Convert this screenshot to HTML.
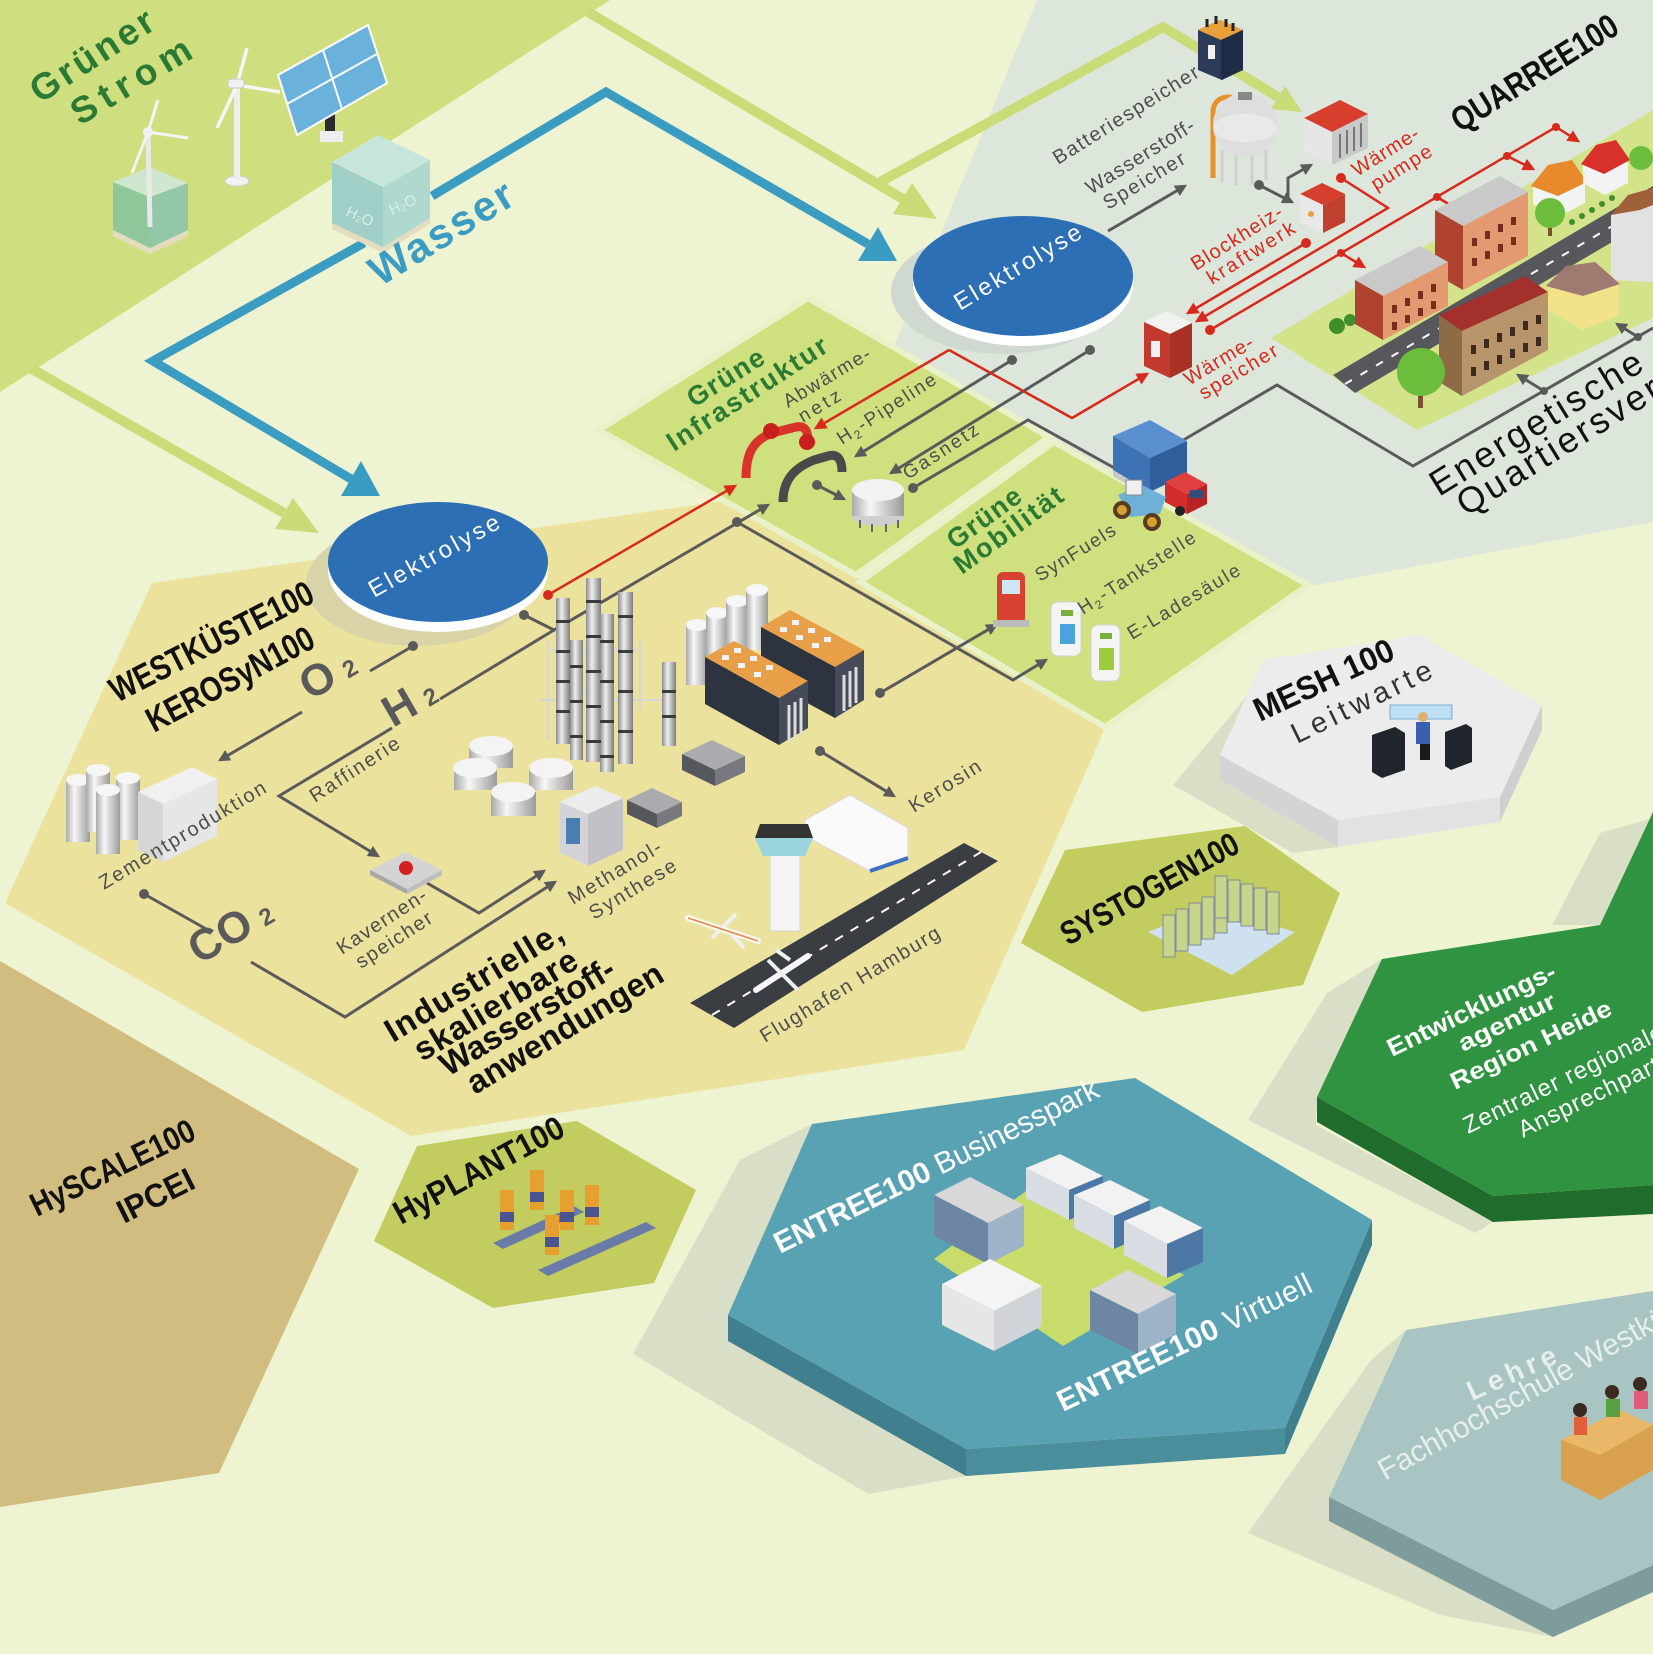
<!DOCTYPE html>
<html><head><meta charset="utf-8">
<style>
html,body{margin:0;padding:0;background:#eef4d1;}
svg{display:block;}
text{font-family:"Liberation Sans",Arial,sans-serif;}
.lb{font-size:20px;fill:#4d4d4d;}
.rl{font-size:20px;fill:#d9291c;}
.gt{font-size:27px;font-weight:bold;fill:#2b7a34;}
.tt{font-weight:bold;fill:#111;}
.g{stroke:#5a5a5a;stroke-width:3;fill:none;}
.r{stroke:#d9291c;stroke-width:2.5;fill:none;}
</style></head><body>
<svg width="1653" height="1654" viewBox="0 0 1653 1654" xmlns="http://www.w3.org/2000/svg">
<defs>
<marker id="mg" viewBox="0 0 10 10" refX="8" refY="5" markerWidth="4" markerHeight="4" orient="auto"><path d="M0,0 L10,5 L0,10 z" fill="#5a5a5a"/></marker>
<marker id="mr" viewBox="0 0 10 10" refX="8" refY="5" markerWidth="5" markerHeight="5" orient="auto"><path d="M0,0 L10,5 L0,10 z" fill="#d9291c"/></marker>
<linearGradient id="cyl" x1="0" x2="1" y1="0" y2="0"><stop offset="0" stop-color="#a9a9a9"/><stop offset="0.35" stop-color="#f7f7f7"/><stop offset="1" stop-color="#9a9a9a"/></linearGradient>
<linearGradient id="col" x1="0" x2="1" y1="0" y2="0"><stop offset="0" stop-color="#8c8c8c"/><stop offset="0.4" stop-color="#eeeeee"/><stop offset="1" stop-color="#7d7d7d"/></linearGradient>
</defs>

<rect width="1653" height="1654" fill="#eef4d1"/>
<polygon points="0,0 610,0 0,392" fill="#cfdf7f"/>
<polygon points="1037,0 1653,0 1653,522 1300,588 1060,445 895,345" fill="#dde6da"/>

<polygon points="5,903 152,583 730,500 1105,728 964,1050 411,1136" fill="#ebe39d"/>
<polygon points="0,961 359,1169 219,1473 0,1507" fill="#d1bd80"/>
<polygon points="417,1146 577,1121 696,1190 654,1283 493,1308 374,1241" fill="#c3cc5f"/>
<polygon points="1065,850 1245,826 1340,893 1303,985 1142,1012 1021,943" fill="#c3cc5f"/>

<polygon points="1255,686 1173,785 1293,853 1338,847 1220,780 1220,755" fill="#d9dfc6"/>
<polygon points="740,1160 633,1354 868,1494 1000,1470 812,1124" fill="#d9dfc6"/>
<polygon points="1327,993 1248,1120 1475,1233 1493,1222 1316,1125 1316,1114 1382,959" fill="#d9dfc6"/>
<polygon points="1552,925 1600,833 1653,818 1653,812 1600,925" fill="#d9dfc6"/>
<polygon points="1371,1360 1248,1533 1440,1615 1553,1637 1329,1520 1329,1497 1406,1330" fill="#d9dfc6"/>

<polygon points="1220,755 1338,820 1338,847 1220,780" fill="#d4d4d4"/>
<polygon points="1338,820 1500,797 1500,822 1338,847" fill="#e2e2e2"/>
<polygon points="1500,797 1542,705 1542,730 1500,822" fill="#cfcfcf"/>
<polygon points="1263,660 1420,635 1542,705 1500,797 1338,820 1220,755" fill="#ececec"/>

<polygon points="728,1315 966,1449 966,1476 728,1341" fill="#3f7f8e"/>
<polygon points="966,1449 1285,1428 1285,1454 966,1476" fill="#4a8d9b"/>
<polygon points="1285,1428 1372,1220 1372,1245 1285,1454" fill="#3f7f8e"/>
<polygon points="728,1315 812,1124 1135,1078 1372,1220 1285,1428 966,1449" fill="#58a2b3"/>

<polygon points="1317,1097 1493,1196 1653,1185 1653,1214 1493,1222 1317,1122" fill="#1f6c2c"/>
<polygon points="1382,959 1600,925 1653,812 1653,1185 1493,1196 1317,1097" fill="#2f9342"/>

<polygon points="1329,1497 1553,1610 1653,1565 1653,1592 1553,1637 1329,1521" fill="#7f9c9c"/>
<polygon points="1329,1497 1406,1330 1653,1291 1653,1565 1553,1610" fill="#a8c4c3"/>

<polygon points="599,430 808,298 1049,437 856,575" fill="#cfe07e" stroke="#e9f1c8" stroke-width="6"/>
<polygon points="1054,442 1308,585 1105,727 860,582" fill="#cfe07e" stroke="#e9f1c8" stroke-width="6"/>
<polygon points="1271,338 1653,110 1653,318 1417,430" fill="#d3e38a"/>

<g stroke="#c9dc78" stroke-width="10" fill="none">
<path d="M32,369 L284,513"/>
<path d="M588,12 L903,199"/>
<path d="M880,182 L1163,27 L1278,97"/>
</g>
<polygon points="319,533 275,529 293,498" fill="#c9dc78"/>
<polygon points="937,219 893,214 912,183" fill="#c9dc78"/>
<polygon points="1302,112 1271,109 1285,86" fill="#c9dc78"/>

<g stroke="#3b9cc2" stroke-width="9" fill="none">
<path d="M432,196 L606,92 L868,244"/>
<path d="M364,243 L153,361 L351,479"/>
</g>
<polygon points="897,261 858,261 878,227" fill="#3b9cc2"/>
<polygon points="380,496 341,496 361,461" fill="#3b9cc2"/>

<polygon points="113,230 150,248 188,230 188,236 150,254 113,236" fill="#e4dcc0"/>
<polygon points="113,182 150,197 150,248 113,230" fill="#8fc79b"/>
<polygon points="150,197 188,183 188,230 150,248" fill="#93c7a8"/>
<polygon points="113,182 150,167 188,183 150,197" fill="#cfe6cf"/>
<line x1="150" y1="227" x2="148" y2="132" stroke="#e9e9e9" stroke-width="5"/>
<path d="M148,132 L158,100 M148,132 L188,138 M148,132 L132,173" stroke="#f4f4f4" stroke-width="3"/>
<circle cx="148" cy="132" r="5" fill="#f2f2f2"/>
<ellipse cx="237" cy="181" rx="12" ry="5" fill="#f2f2f2" stroke="#d0d0d0"/>
<line x1="237" y1="180" x2="237" y2="85" stroke="#eeeeee" stroke-width="6"/>
<path d="M237,85 L247,48 M237,85 L280,92 M237,85 L217,128" stroke="#f6f6f6" stroke-width="3.5"/>
<rect x="228" y="79" width="16" height="9" rx="3" fill="#f0f0f0" stroke="#c8c8c8"/>
<rect x="325" y="113" width="10" height="20" fill="#2b2b2b"/>
<polygon points="320,131 343,131 343,142 320,142" fill="#eeeeee"/>
<polygon points="278,75 368,25 387,83 297,135" fill="#6ab2dc" stroke="#ffffff" stroke-width="2"/>
<path d="M323,50 L342,109 M287,104 L377,54" stroke="#ffffff" stroke-width="2"/>
<polygon points="332,223 383,247 430,218 430,224 383,253 332,229" fill="#e4dcc0"/>
<polygon points="332,162 383,187 383,247 332,223" fill="#9fcfc6"/>
<polygon points="383,187 430,160 430,218 383,247" fill="#afd8cf"/>
<polygon points="332,162 378,135 430,160 383,187" fill="#c8e5dc"/>
<text x="345" y="215" font-size="15" fill="#d9efea" transform="rotate(25 345 215)">H₂O</text>
<text x="392" y="215" font-size="15" fill="#d9efea" transform="rotate(-25 392 215)">H₂O</text>

<ellipse cx="418" cy="584" rx="112" ry="62" fill="#d8d4a8"/>
<ellipse cx="438" cy="570" rx="110" ry="62" fill="#ffffff"/>
<ellipse cx="438" cy="562" rx="110" ry="60" fill="#2c6fb5"/>
<ellipse cx="1003" cy="292" rx="112" ry="62" fill="#d0d9cf"/>
<ellipse cx="1023" cy="284" rx="110" ry="62" fill="#ffffff"/>
<ellipse cx="1023" cy="276" rx="110" ry="60" fill="#2c6fb5"/>

<g class="g">
<path d="M413,646 L370,671"/>
<path d="M302,712 L220,760" marker-end="url(#mg)"/>
<path d="M524,615 L554,630 L768,505" marker-end="url(#mg)"/>
<path d="M554,630 L440,699"/>
<path d="M392,728 L279,796 L378,856" marker-end="url(#mg)"/>
<path d="M737,522 L1013,680 L1046,660" marker-end="url(#mg)"/>
<path d="M427,883 L479,913 L544,871" marker-end="url(#mg)"/>
<path d="M144,894 L208,930"/>
<path d="M251,962 L345,1017 L555,882" marker-end="url(#mg)"/>
<path d="M880,693 L996,625" marker-end="url(#mg)"/>
<path d="M820,751 L894,796" marker-end="url(#mg)"/>
<path d="M1012,360 L856,456" marker-end="url(#mg)"/>
<path d="M1090,350 L891,473" marker-end="url(#mg)"/>
<path d="M817,485 L844,499" marker-end="url(#mg)"/>
<path d="M913,488 L1028,420 L1118,470"/>
<path d="M1175,445 L1277,385 L1413,466 L1653,328"/>
<path d="M1544,391 L1518,375" marker-end="url(#mg)"/>
<path d="M1638,337 L1617,324" marker-end="url(#mg)"/>
<path d="M1108,231 L1185,186" marker-end="url(#mg)"/>
<path d="M1259,185 L1292,202" marker-end="url(#mg)"/>
<path d="M1288,196 L1288,178 L1311,165" marker-end="url(#mg)"/>
</g>
<g fill="#5a5a5a">
<circle cx="413" cy="646" r="5"/><circle cx="524" cy="615" r="5"/><circle cx="737" cy="522" r="5"/>
<circle cx="144" cy="894" r="5"/><circle cx="880" cy="693" r="5"/><circle cx="820" cy="751" r="5"/>
<circle cx="1012" cy="360" r="5"/><circle cx="1090" cy="350" r="5"/><circle cx="817" cy="485" r="5"/>
<circle cx="913" cy="488" r="5"/><circle cx="1259" cy="185" r="5"/><circle cx="1544" cy="391" r="4"/><circle cx="1638" cy="337" r="4"/>
</g>
<g class="r">
<path d="M548,595 L735,486" marker-end="url(#mr)"/>
<path d="M949,350 L816,428" marker-end="url(#mr)"/>
<path d="M949,350 L1072,418 L1147,374" marker-end="url(#mr)"/>
<path d="M1341,178 L1388,208 L1197,321" marker-end="url(#mr)"/>
<path d="M1306,243 L1188,313" marker-end="url(#mr)"/>
<path d="M1210,330 L1556,127 L1578,141" marker-end="url(#mr)"/>
<path d="M1507,156 L1533,169" marker-end="url(#mr)"/>
<path d="M1437,197 L1460,211" marker-end="url(#mr)"/>
<path d="M1341,253 L1364,267" marker-end="url(#mr)"/>
</g>
<g fill="#d9291c">
<circle cx="548" cy="595" r="5"/><circle cx="1341" cy="178" r="5"/><circle cx="1306" cy="243" r="5"/>
<circle cx="1210" cy="330" r="5"/><circle cx="1556" cy="127" r="4"/><circle cx="1507" cy="156" r="4"/>
<circle cx="1437" cy="197" r="4"/><circle cx="1341" cy="253" r="4"/>
</g>

<path d="M746,478 C746,452 754,440 772,433 L796,427 C806,425 808,432 808,442" stroke="#d8342a" stroke-width="9" fill="none"/>
<circle cx="771" cy="431" r="8" fill="#c81e1e"/><circle cx="807" cy="442" r="8" fill="#c81e1e"/>
<path d="M783,502 C783,480 794,468 814,460 L828,456 C838,453 842,460 842,472" stroke="#4a4a4a" stroke-width="9" fill="none"/>
<ellipse cx="878" cy="516" rx="26" ry="10" fill="#cfcfcf"/>
<rect x="852" y="490" width="52" height="26" fill="url(#cyl)"/>
<ellipse cx="878" cy="490" rx="26" ry="11" fill="#f2f2f2"/>
<path d="M860,520 v8 M872,524 v8 M886,524 v8 M898,520 v8" stroke="#666" stroke-width="2"/>

<rect x="997" y="572" width="28" height="52" rx="6" fill="#d8412f"/>
<rect x="1002" y="580" width="18" height="14" fill="#cde6f2"/>
<rect x="993" y="620" width="36" height="7" fill="#bbbbbb"/>
<rect x="1051" y="602" width="30" height="54" rx="7" fill="#f4f4f4" stroke="#d0d0d0"/>
<rect x="1060" y="624" width="15" height="20" fill="#4aa3db"/>
<rect x="1061" y="610" width="12" height="6" fill="#7ab03a"/>
<rect x="1091" y="625" width="29" height="56" rx="7" fill="#f4f4f4" stroke="#d0d0d0"/>
<rect x="1099" y="648" width="15" height="22" fill="#9ccc3c"/>
<rect x="1100" y="633" width="12" height="6" fill="#7ab03a"/>

<!-- truck -->
<polygon points="1113,436 1150,420 1187,441 1150,458" fill="#5a8fcf"/>
<polygon points="1113,436 1150,458 1150,492 1113,470" fill="#3d72b5"/>
<polygon points="1150,458 1187,441 1187,474 1150,492" fill="#2e5f9c"/>
<polygon points="1113,470 1150,492 1150,498 1113,476" fill="#c8c8c8"/>
<polygon points="1165,482 1185,472 1207,484 1187,494" fill="#e04040"/>
<polygon points="1165,482 1187,494 1187,514 1165,502" fill="#d42b2b"/>
<polygon points="1187,494 1207,484 1207,504 1187,514" fill="#b82222"/>
<rect x="1190" y="490" width="13" height="8" fill="#2e4d7a"/>
<circle cx="1180" cy="511" r="5" fill="#222"/>
<polygon points="1118,495 1142,485 1166,497 1160,514 1130,517" fill="#6fb0d6"/>
<rect x="1126" y="480" width="16" height="15" fill="#f0f0f0" stroke="#888"/>
<circle cx="1122" cy="510" r="9" fill="#5a3a20"/><circle cx="1122" cy="510" r="5" fill="#d6a030"/>
<circle cx="1152" cy="522" r="9" fill="#5a3a20"/><circle cx="1152" cy="522" r="5" fill="#d6a030"/>

<polygon points="1198,30 1220,20 1243,30 1243,70 1222,80 1198,70" fill="#2c3c58"/>
<polygon points="1198,30 1220,20 1243,30 1221,40" fill="#e8a03a"/>
<polygon points="1221,40 1243,30 1243,70 1221,80" fill="#1f2c45"/>
<rect x="1208" y="45" width="7" height="14" fill="#f0f0f0"/>
<path d="M1207,27 v-8 M1216,24 v-8 M1226,27 v-8 M1233,31 v-8" stroke="#222" stroke-width="3"/>
<path d="M1213,178 L1213,112 C1213,98 1228,95 1232,98" stroke="#e8902a" stroke-width="5" fill="none"/>
<path d="M1222,150 v32 M1236,155 v30 M1252,155 v30 M1266,150 v30" stroke="#d0d0d0" stroke-width="3"/>
<circle cx="1245" cy="125" r="32" fill="#dedede"/>
<ellipse cx="1245" cy="128" rx="32" ry="14" fill="#e9e9e9"/>
<rect x="1238" y="92" width="14" height="8" fill="#888"/>
<polygon points="1304,118 1340,100 1368,114 1332,132" fill="#d63f2e"/>
<polygon points="1304,118 1332,132 1332,165 1304,150" fill="#e6e6e6"/>
<polygon points="1332,132 1368,114 1368,148 1332,165" fill="#c9c9c9"/>
<path d="M1340,134 v24 M1347,130 v24 M1354,127 v24 M1361,123 v24" stroke="#777" stroke-width="2"/>
<polygon points="1300,194 1322,183 1345,194 1323,205" fill="#d63f2e"/>
<polygon points="1300,194 1323,205 1323,233 1300,222" fill="#e8e8e8"/>
<polygon points="1323,205 1345,194 1345,222 1323,233" fill="#c04030"/>
<circle cx="1311" cy="214" r="3" fill="#e8a03a"/>
<polygon points="1144,322 1166,311 1192,323 1170,334" fill="#f2f2f2"/>
<polygon points="1144,322 1170,334 1170,378 1144,366" fill="#c23a2d"/>
<polygon points="1170,334 1192,323 1192,367 1170,378" fill="#a83226"/>
<rect x="1151" y="341" width="9" height="16" fill="#f3f3f3"/>

<polygon points="1333,375 1653,186 1653,218 1355,393" fill="#57585c"/>
<path d="M1345,384 L1653,202" stroke="#ffffff" stroke-width="2" stroke-dasharray="8 10"/>
<polygon points="1435,210 1500,176 1528,192 1463,226" fill="#c9c9c9"/>
<polygon points="1435,210 1463,226 1463,290 1435,274" fill="#b0432f"/>
<polygon points="1463,226 1528,192 1528,256 1463,290" fill="#e39a70"/>
<polygon points="1355,280 1420,246 1448,262 1383,296" fill="#c9c9c9"/>
<polygon points="1355,280 1383,296 1383,340 1355,324" fill="#b0432f"/>
<polygon points="1383,296 1448,262 1448,306 1383,340" fill="#e39a70"/>
<g fill="#7a2a20">
<rect x="1392" y="305" width="5" height="8"/><rect x="1405" y="298" width="5" height="8"/><rect x="1418" y="291" width="5" height="8"/><rect x="1431" y="284" width="5" height="8"/>
<rect x="1392" y="322" width="5" height="8"/><rect x="1405" y="315" width="5" height="8"/><rect x="1418" y="308" width="5" height="8"/><rect x="1431" y="301" width="5" height="8"/>
<rect x="1472" y="238" width="5" height="8"/><rect x="1485" y="231" width="5" height="8"/><rect x="1498" y="224" width="5" height="8"/><rect x="1511" y="217" width="5" height="8"/>
<rect x="1472" y="258" width="5" height="8"/><rect x="1485" y="251" width="5" height="8"/><rect x="1498" y="244" width="5" height="8"/><rect x="1511" y="237" width="5" height="8"/>
</g>
<polygon points="1533,185 1560,170 1585,183 1585,203 1558,217 1533,204" fill="#f3f3f3"/>
<polygon points="1531,186 1548,165 1572,160 1587,182 1558,196" fill="#e8892b"/>
<polygon points="1583,163 1606,150 1628,162 1628,183 1605,195 1583,183" fill="#f3f3f3"/>
<polygon points="1581,164 1596,145 1616,140 1630,160 1604,174" fill="#d8302a"/>
<polygon points="1611,215 1640,198 1653,205 1653,282 1611,280" fill="#e2e2e2"/>
<polygon points="1611,215 1628,195 1653,188 1653,205 1640,210" fill="#a0603a"/>
<polygon points="1548,285 1585,265 1619,283 1619,315 1582,330 1548,310" fill="#f2e38a"/>
<polygon points="1546,286 1566,266 1595,262 1620,284 1583,296" fill="#9e7a70"/>
<polygon points="1439,315 1525,276 1548,292 1462,331" fill="#a3302a"/>
<polygon points="1462,331 1548,292 1548,350 1462,396" fill="#b8946a"/>
<polygon points="1439,315 1462,331 1462,396 1439,382" fill="#8e6b47"/>
<g fill="#3b2a1e">
<rect x="1471" y="345" width="5" height="9"/><rect x="1484" y="339" width="5" height="9"/><rect x="1497" y="333" width="5" height="9"/><rect x="1510" y="327" width="5" height="9"/><rect x="1523" y="321" width="5" height="9"/><rect x="1536" y="315" width="5" height="9"/>
<rect x="1471" y="367" width="5" height="9"/><rect x="1484" y="361" width="5" height="9"/><rect x="1497" y="355" width="5" height="9"/><rect x="1510" y="349" width="5" height="9"/><rect x="1523" y="343" width="5" height="9"/><rect x="1536" y="337" width="5" height="9"/>
</g>
<rect x="1418" y="384" width="5" height="24" fill="#7a5030"/>
<circle cx="1421" cy="372" r="24" fill="#6cbd3c"/>
<rect x="1548" y="222" width="4" height="14" fill="#7a5030"/>
<circle cx="1550" cy="213" r="15" fill="#6cbd3c"/>
<circle cx="1641" cy="158" r="12" fill="#6cbd3c"/>
<circle cx="1337" cy="326" r="8" fill="#3e8e2a"/>
<circle cx="1350" cy="320" r="6" fill="#3e8e2a"/>
<g fill="#3e8e2a"><circle cx="1572" cy="222" r="3"/><circle cx="1582" cy="216" r="3"/><circle cx="1592" cy="210" r="3"/><circle cx="1602" cy="204" r="3"/><circle cx="1612" cy="198" r="3"/></g>

<rect x="686" y="625" width="22" height="60" fill="url(#cyl)"/><ellipse cx="697" cy="625" rx="11" ry="6" fill="#f6f6f6"/>
<rect x="706" y="613" width="22" height="60" fill="url(#cyl)"/><ellipse cx="717" cy="613" rx="11" ry="6" fill="#f6f6f6"/>
<rect x="726" y="601" width="22" height="60" fill="url(#cyl)"/><ellipse cx="737" cy="601" rx="11" ry="6" fill="#f6f6f6"/>
<rect x="746" y="590" width="22" height="60" fill="url(#cyl)"/><ellipse cx="757" cy="590" rx="11" ry="6" fill="#f6f6f6"/>
<polygon points="761,627 790,610 864,650 835,667" fill="#e8a048"/>
<polygon points="761,627 835,667 835,718 761,678" fill="#2e3340"/>
<polygon points="835,667 864,650 864,700 835,718" fill="#454b58"/>
<polygon points="705,657 734,641 808,681 779,698" fill="#e8a048"/>
<polygon points="705,657 779,698 779,745 705,704" fill="#2e3340"/>
<polygon points="779,698 808,681 808,728 779,745" fill="#454b58"/>
<g fill="#f2f2f2">
<rect x="722" y="655" width="7" height="5"/><rect x="738" y="663" width="7" height="5"/><rect x="754" y="672" width="7" height="5"/><rect x="734" y="648" width="7" height="5"/><rect x="750" y="656" width="7" height="5"/><rect x="766" y="665" width="7" height="5"/>
<rect x="780" y="627" width="7" height="5"/><rect x="796" y="635" width="7" height="5"/><rect x="812" y="643" width="7" height="5"/><rect x="792" y="620" width="7" height="5"/><rect x="808" y="628" width="7" height="5"/><rect x="824" y="637" width="7" height="5"/>
</g>
<path d="M789,705 v36 M795,702 v36 M801,698 v36 M844,675 v36 M850,671 v36 M856,667 v36" stroke="#dcdcdc" stroke-width="3"/>
<g stroke="#d6d6d6" stroke-width="2" fill="none">
<path d="M548,640 v100 M548,650 h90 M600,700 h70 v40 M640,640 v70 M582,690 h30 M540,700 h20"/>
</g>
<rect x="556" y="598" width="14" height="146" fill="url(#col)"/>
<rect x="586" y="578" width="15" height="184" fill="url(#col)"/>
<rect x="618" y="592" width="15" height="172" fill="url(#col)"/>
<rect x="600" y="614" width="14" height="158" fill="url(#col)"/>
<rect x="570" y="640" width="13" height="120" fill="url(#col)"/>
<rect x="662" y="662" width="14" height="84" fill="url(#col)"/>
<g fill="#3a3a3a">
<rect x="556" y="620" width="14" height="3"/><rect x="556" y="650" width="14" height="3"/><rect x="556" y="680" width="14" height="3"/><rect x="556" y="710" width="14" height="3"/>
<rect x="586" y="600" width="15" height="3"/><rect x="586" y="635" width="15" height="3"/><rect x="586" y="670" width="15" height="3"/><rect x="586" y="705" width="15" height="3"/><rect x="586" y="740" width="15" height="3"/>
<rect x="618" y="615" width="15" height="3"/><rect x="618" y="650" width="15" height="3"/><rect x="618" y="690" width="15" height="3"/><rect x="618" y="730" width="15" height="3"/>
<rect x="600" y="640" width="14" height="3"/><rect x="600" y="680" width="14" height="3"/><rect x="600" y="720" width="14" height="3"/><rect x="600" y="755" width="14" height="3"/>
<rect x="570" y="665" width="13" height="3"/><rect x="570" y="700" width="13" height="3"/><rect x="570" y="735" width="13" height="3"/>
<rect x="662" y="690" width="14" height="3"/><rect x="662" y="715" width="14" height="3"/>
</g>
<rect x="469" y="746" width="44" height="22" fill="url(#cyl)"/><ellipse cx="491" cy="746" rx="22" ry="10" fill="#f4f4f4"/>
<rect x="454" y="768" width="43" height="22" fill="url(#cyl)"/><ellipse cx="475" cy="768" rx="22" ry="10" fill="#f4f4f4"/>
<rect x="529" y="768" width="44" height="22" fill="url(#cyl)"/><ellipse cx="551" cy="768" rx="22" ry="10" fill="#f4f4f4"/>
<rect x="491" y="792" width="45" height="24" fill="url(#cyl)"/><ellipse cx="513" cy="792" rx="22" ry="10" fill="#f4f4f4"/>
<polygon points="560,802 595,786 623,798 588,814" fill="#ececee"/>
<polygon points="560,802 588,814 588,866 560,853" fill="#d4d4d8"/>
<polygon points="588,814 623,798 623,850 588,866" fill="#c2c2c6"/>
<rect x="566" y="818" width="14" height="26" fill="#4a7db0"/>
<polygon points="627,800 652,788 682,802 657,814" fill="#a9abaf"/>
<polygon points="627,800 657,814 657,828 627,814" fill="#55585d"/>
<polygon points="657,814 682,802 682,816 657,828" fill="#77797e"/>
<polygon points="682,754 712,740 745,756 715,770" fill="#a9abaf"/>
<polygon points="682,754 715,770 715,786 682,770" fill="#55585d"/>
<polygon points="715,770 745,756 745,772 715,786" fill="#77797e"/>
<rect x="66" y="780" width="24" height="62" fill="url(#cyl)"/><ellipse cx="78" cy="780" rx="12" ry="6" fill="#f6f6f6"/>
<rect x="86" y="770" width="24" height="62" fill="url(#cyl)"/><ellipse cx="98" cy="770" rx="12" ry="6" fill="#f6f6f6"/>
<rect x="116" y="778" width="24" height="62" fill="url(#cyl)"/><ellipse cx="128" cy="778" rx="12" ry="6" fill="#f6f6f6"/>
<rect x="96" y="790" width="24" height="64" fill="url(#cyl)"/><ellipse cx="108" cy="790" rx="12" ry="6" fill="#f6f6f6"/>
<polygon points="138,792 192,767 217,779 163,804" fill="#f0f0f0"/>
<polygon points="138,792 163,804 163,862 138,850" fill="#d6d6d6"/>
<polygon points="163,804 217,779 217,836 163,862" fill="#e6e6e6"/>
<polygon points="370,870 405,852 442,870 407,889" fill="#d4d4d4"/>
<polygon points="370,870 407,889 407,894 370,875" fill="#a8a8a8"/>
<polygon points="407,889 442,870 442,875 407,894" fill="#bdbdbd"/>
<circle cx="406" cy="868" r="7" fill="#d42020"/>
<polygon points="805,820 850,795 908,828 908,858 870,871 805,836" fill="#fafafa" stroke="#d8d8d8"/>
<path d="M870,871 L908,858" stroke="#3b6fc0" stroke-width="4"/>
<rect x="770" y="855" width="30" height="76" fill="#f4f4f4" stroke="#d6d6d6"/>
<polygon points="755,838 813,838 805,856 763,856" fill="#9ad4dc"/>
<polygon points="760,824 808,824 813,838 755,838" fill="#333"/>
<polygon points="690,1003 964,843 998,861 734,1028" fill="#3a3d42"/>
<path d="M712,1015 L981,852" stroke="#ffffff" stroke-width="2" stroke-dasharray="9 9"/>
<path d="M688,918 L758,941" stroke="#f8f8f8" stroke-width="6" stroke-linecap="round"/>
<path d="M712,938 L736,914 M728,930 L744,948" stroke="#f0f0f0" stroke-width="4"/>
<path d="M688,918 L758,941" stroke="#e88a3a" stroke-width="1.5"/>
<path d="M756,990 L808,956" stroke="#f8f8f8" stroke-width="6" stroke-linecap="round"/>
<path d="M768,960 L798,990 M776,950 L790,960" stroke="#f0f0f0" stroke-width="4"/>

<polygon points="934,1259 1026,1191 1184,1275 1063,1346" fill="#c7dc6a"/>
<polygon points="934,1195 970,1177 1024,1205 988,1223" fill="#d8d8d8"/>
<polygon points="934,1195 988,1223 988,1264 934,1236" fill="#6c86a3"/>
<polygon points="988,1223 1024,1205 1024,1246 988,1264" fill="#9fb3c8"/>
<polygon points="1026,1168 1060,1154 1103,1176 1069,1190" fill="#f2f2f2"/>
<polygon points="1026,1168 1069,1190 1069,1220 1026,1198" fill="#d8dde3"/>
<polygon points="1069,1190 1103,1176 1103,1206 1069,1220" fill="#4d78a5"/>
<polygon points="1074,1195 1110,1180 1150,1200 1114,1216" fill="#f2f2f2"/>
<polygon points="1074,1195 1114,1216 1114,1249 1074,1228" fill="#d8dde3"/>
<polygon points="1114,1216 1150,1200 1150,1233 1114,1249" fill="#4d78a5"/>
<polygon points="1124,1221 1160,1206 1203,1228 1167,1244" fill="#f2f2f2"/>
<polygon points="1124,1221 1167,1244 1167,1278 1124,1255" fill="#d8dde3"/>
<polygon points="1167,1244 1203,1228 1203,1262 1167,1278" fill="#4d78a5"/>
<polygon points="942,1284 990,1259 1042,1286 994,1311" fill="#f4f4f4"/>
<polygon points="942,1284 994,1311 994,1351 942,1325" fill="#e6e6e6"/>
<polygon points="994,1311 1042,1286 1042,1326 994,1351" fill="#d0d4d8"/>
<polygon points="1090,1290 1128,1270 1176,1294 1138,1314" fill="#d8d8d8"/>
<polygon points="1090,1290 1138,1314 1138,1354 1090,1330" fill="#6c86a3"/>
<polygon points="1138,1314 1176,1294 1176,1334 1138,1354" fill="#9fb3c8"/>

<rect x="1390" y="705" width="62" height="14" fill="#bfe0f2" stroke="#7ab0d0"/>
<polygon points="1372,735 1395,727 1405,733 1405,770 1382,778 1372,772" fill="#20242c"/>
<polygon points="1445,732 1466,724 1472,728 1472,762 1451,770 1445,766" fill="#20242c"/>
<rect x="1416" y="722" width="14" height="22" fill="#3a5fb0"/>
<circle cx="1423" cy="717" r="5" fill="#e0b070"/>
<rect x="1420" y="744" width="10" height="16" fill="#1a1a1a"/>

<polygon points="1148,932 1213,906 1295,932 1232,975" fill="#cfe1ef"/>
<g fill="#c7d58a" stroke="#7d8aa0" stroke-width="1">
<rect x="1163" y="915" width="12" height="42"/><rect x="1176" y="909" width="12" height="42"/><rect x="1189" y="903" width="12" height="42"/><rect x="1202" y="897" width="12" height="42"/><rect x="1215" y="891" width="12" height="42"/>
<rect x="1215" y="876" width="12" height="42"/><rect x="1228" y="880" width="12" height="42"/><rect x="1241" y="884" width="12" height="42"/><rect x="1254" y="888" width="12" height="42"/><rect x="1267" y="892" width="12" height="42"/>
</g>

<polygon points="493,1243 574,1206 584,1212 503,1249" fill="#6a7ba8"/>
<polygon points="538,1270 646,1222 656,1228 548,1276" fill="#6a7ba8"/>
<g fill="#e6a030">
<rect x="500" y="1190" width="14" height="40"/><rect x="530" y="1170" width="14" height="40"/><rect x="560" y="1190" width="14" height="40"/><rect x="545" y="1215" width="14" height="40"/><rect x="585" y="1185" width="14" height="40"/>
</g>
<g fill="#4a5590">
<rect x="500" y="1212" width="14" height="10"/><rect x="530" y="1192" width="14" height="10"/><rect x="560" y="1212" width="14" height="10"/><rect x="545" y="1237" width="14" height="10"/><rect x="585" y="1207" width="14" height="10"/>
</g>

<polygon points="1561,1440 1620,1410 1653,1425 1653,1470 1600,1500 1561,1480" fill="#d9a050"/>
<polygon points="1561,1440 1620,1410 1653,1425 1600,1455" fill="#e8b868"/>
<circle cx="1580" cy="1410" r="7" fill="#3a2a20"/><rect x="1574" y="1417" width="13" height="18" fill="#e0603a"/>
<circle cx="1612" cy="1392" r="7" fill="#3a2a20"/><rect x="1606" y="1399" width="14" height="18" fill="#5aa040"/>
<circle cx="1640" cy="1384" r="7" fill="#3a2a20"/><rect x="1634" y="1391" width="14" height="18" fill="#e05a7a"/>

<!-- ===== TEXT ===== -->
<text x="40" y="104" style="font-size:37px;font-weight:bold;fill:#2b7a34" textLength="140" transform="rotate(-33 40 104)">Grüner</text>
<text x="80" y="126" style="font-size:37px;font-weight:bold;fill:#2b7a34" textLength="134" transform="rotate(-31 80 126)">Strom</text>
<text x="380" y="287" style="font-size:42px;font-weight:bold;fill:#3a9bc3" textLength="161" transform="rotate(-31.5 380 287)">Wasser</text>
<text x="374" y="598" font-size="24" fill="#ffffff" textLength="146" transform="rotate(-29 374 598)">Elektrolyse</text>
<text x="960" y="311" font-size="24" fill="#ffffff" textLength="144" transform="rotate(-31 960 311)">Elektrolyse</text>

<text x="117" y="703" class="tt" font-size="35" textLength="224" lengthAdjust="spacingAndGlyphs" transform="rotate(-27 117 703)">WESTKÜSTE100</text>
<text x="154" y="733" class="tt" font-size="35" textLength="185" lengthAdjust="spacingAndGlyphs" transform="rotate(-28 154 733)">KEROSyN100</text>

<text x="310" y="701" font-size="44" font-weight="bold" fill="#5a5a5a" transform="rotate(-30 310 701)">O<tspan font-size="24" dx="10">2</tspan></text>
<text x="393" y="728" font-size="44" font-weight="bold" fill="#5a5a5a" transform="rotate(-30 393 728)">H<tspan font-size="24" dx="10">2</tspan></text>
<text x="199" y="965" font-size="44" font-weight="bold" fill="#5a5a5a" transform="rotate(-30 199 965)">CO<tspan font-size="24" dx="10">2</tspan></text>

<text x="104" y="890" class="lb" textLength="191" transform="rotate(-31 104 890)">Zementproduktion</text>
<text x="315" y="803" class="lb" textLength="103" transform="rotate(-33 315 803)">Raffinerie</text>
<text x="342" y="955" class="lb" textLength="103" transform="rotate(-33 342 955)">Kavernen-</text>
<text x="361" y="969" class="lb" textLength="87" transform="rotate(-33 361 969)">speicher</text>

<text x="393" y="1043" style="font-size:33px;font-weight:bold;fill:#111" textLength="202" transform="rotate(-31 393 1043)">Industrielle,</text>
<text x="422" y="1062" style="font-size:33px;font-weight:bold;fill:#111" textLength="185" transform="rotate(-31 422 1062)">skalierbare</text>
<text x="448" y="1077" style="font-size:33px;font-weight:bold;fill:#111" textLength="198" transform="rotate(-31 448 1077)">Wasserstoff-</text>
<text x="475" y="1095" style="font-size:33px;font-weight:bold;fill:#111" textLength="223" transform="rotate(-31 475 1095)">anwendungen</text>

<text x="573" y="905" class="lb" textLength="105" transform="rotate(-31 573 905)">Methanol-</text>
<text x="594" y="920" class="lb" textLength="98" transform="rotate(-31 594 920)">Synthese</text>
<text x="914" y="813" class="lb" textLength="81" transform="rotate(-32 914 813)">Kerosin</text>
<text x="765" y="1043" class="lb" textLength="206" transform="rotate(-31 765 1043)">Flughafen Hamburg</text>

<text x="694" y="408" class="gt" textLength="86" transform="rotate(-32 694 408)">Grüne</text>
<text x="674" y="452" class="gt" textLength="186" transform="rotate(-33 674 452)">Infrastruktur</text>
<text x="788" y="408" class="lb" style="font-size:19px" textLength="98" transform="rotate(-31 788 408)">Abwärme-</text>
<text x="803" y="423" class="lb" style="font-size:19px" textLength="46" transform="rotate(-31 803 423)">netz</text>
<text x="842" y="445" class="lb" style="font-size:19px" textLength="114" transform="rotate(-33 842 445)">H<tspan font-size="12" dy="4">2</tspan><tspan dy="-4">-Pipeline</tspan></text>
<text x="908" y="480" class="lb" style="font-size:19px" textLength="86" transform="rotate(-33 908 480)">Gasnetz</text>
<text x="955" y="550" class="gt" textLength="85" transform="rotate(-36 955 550)">Grüne</text>
<text x="962" y="575" class="gt" textLength="128" transform="rotate(-36 962 575)">Mobilität</text>
<text x="1040" y="582" class="lb" style="font-size:19px" textLength="91" transform="rotate(-32 1040 582)">SynFuels</text>
<text x="1083" y="615" class="lb" style="font-size:19px" textLength="136" transform="rotate(-33 1083 615)">H<tspan font-size="12" dy="4">2</tspan><tspan dy="-4">-Tankstelle</tspan></text>
<text x="1132" y="640" class="lb" style="font-size:19px" textLength="128" transform="rotate(-31 1132 640)">E-Ladesäule</text>

<text x="1058" y="165" class="lb" textLength="168" transform="rotate(-32 1058 165)">Batteriespeicher</text>
<text x="1091" y="195" class="lb" textLength="124" transform="rotate(-32 1091 195)">Wasserstoff-</text>
<text x="1108" y="210" class="lb" textLength="92" transform="rotate(-31 1108 210)">Speicher</text>
<text x="1357" y="177" class="rl" textLength="75" transform="rotate(-32 1357 177)">Wärme-</text>
<text x="1376" y="191" class="rl" textLength="68" transform="rotate(-32 1376 191)">pumpe</text>
<text x="1196" y="271" class="rl" textLength="104" transform="rotate(-32 1196 271)">Blockheiz-</text>
<text x="1212" y="285" class="rl" textLength="100" transform="rotate(-32 1212 285)">kraftwerk</text>
<text x="1189" y="386" class="rl" textLength="77" transform="rotate(-31 1189 386)">Wärme-</text>
<text x="1204" y="400" class="rl" textLength="88" transform="rotate(-31 1204 400)">speicher</text>
<text x="1460" y="133" class="tt" font-size="34" textLength="190" lengthAdjust="spacingAndGlyphs" transform="rotate(-32 1460 133)">QUARREE100</text>
<text x="1439" y="497" font-size="36" fill="#111" textLength="243" transform="rotate(-31.7 1439 497)">Energetische</text>
<text x="1466" y="517" font-size="36" fill="#111" letter-spacing="3" transform="rotate(-31.7 1466 517)">Quartiersversorgung</text>

<text x="1260" y="722" class="tt" font-size="33" textLength="151" lengthAdjust="spacingAndGlyphs" transform="rotate(-25 1260 722)">MESH 100</text>
<text x="1297" y="744" font-size="29" fill="#333" textLength="153" transform="rotate(-26 1297 744)">Leitwarte</text>
<text x="1068" y="946" class="tt" font-size="33" textLength="198" lengthAdjust="spacingAndGlyphs" transform="rotate(-28.6 1068 946)">SYSTOGEN100</text>
<text x="401" y="1225" class="tt" font-size="33" textLength="189" lengthAdjust="spacingAndGlyphs" transform="rotate(-28.5 401 1225)">HyPLANT100</text>
<text x="37" y="1217" class="tt" font-size="33" textLength="179" lengthAdjust="spacingAndGlyphs" transform="rotate(-26 37 1217)">HySCALE100</text>
<text x="124" y="1224" class="tt" font-size="33" textLength="82" lengthAdjust="spacingAndGlyphs" transform="rotate(-26.6 124 1224)">IPCEI</text>

<text x="780" y="1254" font-size="30" fill="#ffffff" textLength="358" transform="rotate(-26.2 780 1254)"><tspan font-weight="bold">ENTREE100</tspan> Businesspark</text>
<text x="1063" y="1412" font-size="30" fill="#ffffff" textLength="279" transform="rotate(-25.7 1063 1412)"><tspan font-weight="bold">ENTREE100</tspan> Virtuell</text>

<text x="1392" y="1057" font-size="25" font-weight="bold" fill="#ffffff" textLength="184" lengthAdjust="spacingAndGlyphs" transform="rotate(-25.6 1392 1057)">Entwicklungs-</text>
<text x="1463" y="1052" font-size="24" font-weight="bold" fill="#ffffff" textLength="105" lengthAdjust="spacingAndGlyphs" transform="rotate(-25.6 1463 1052)">agentur</text>
<text x="1455" y="1090" font-size="24" font-weight="bold" fill="#ffffff" textLength="176" lengthAdjust="spacingAndGlyphs" transform="rotate(-25.6 1455 1090)">Region Heide</text>
<text x="1468" y="1134" font-size="24" fill="#ffffff" letter-spacing="1" transform="rotate(-26 1468 1134)">Zentraler regionaler</text>
<text x="1523" y="1138" font-size="24" fill="#ffffff" letter-spacing="1" transform="rotate(-26 1523 1138)">Ansprechpartner</text>

<text x="1472" y="1401" font-size="28" font-weight="bold" fill="#e8efea" textLength="95" transform="rotate(-24 1472 1401)">Lehre</text>
<text x="1385" y="1481" font-size="30" fill="#e8efea" transform="rotate(-29 1385 1481)">Fachhochschule Westküste</text>
</svg>
</body></html>
